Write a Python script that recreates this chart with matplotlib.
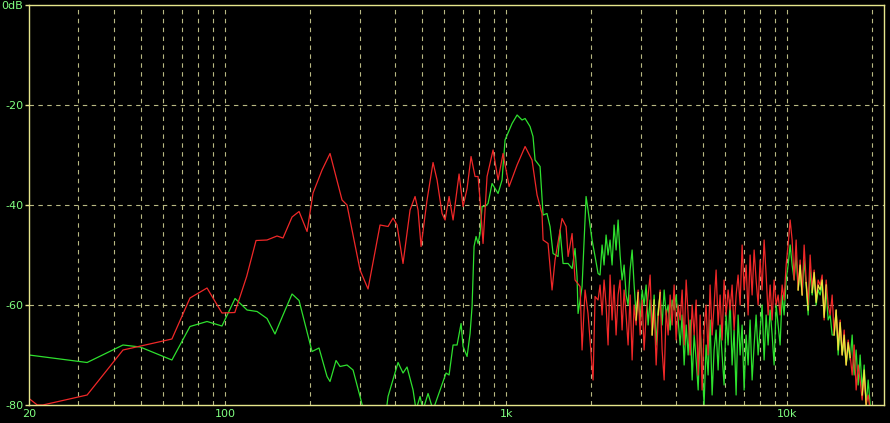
import numpy as np
import matplotlib.pyplot as plt

# ---- data: spectrum levels (dB) ----
# low / mid band, red channel
red_lo_freq = [20, 21.4, 22.4, 32.2, 43.2, 64.5, 74.8, 86.0, 97.2, 108,
               119, 128.5, 140.6, 152.6, 160.3, 172.6, 182.8, 195.2, 205, 220.7,
               235.6, 260, 270.8, 301.3, 321.7, 354.9, 379, 394.9, 408, 428.5,
               453.9, 472.9, 484.6, 496.7, 521.7, 548, 566.3, 590, 604.7, 624.9,
               645.7, 678.2, 700.8, 724.2, 748.2, 773.1, 792.4, 805.4, 825.4, 853,
               896, 933.4, 972.5, 1022, 1091, 1165, 1233, 1285, 1338, 1350,
               1406, 1453, 1489, 1577, 1630, 1657, 1712, 1754, 1828, 1858,
               1904, 1951, 2033, 2067, 2118]
red_lo_db = [-78.7, -80, -80, -78, -69, -66.8, -58.6, -56.6, -61.6, -61.5,
             -54.3, -47.1, -47, -46.2, -46.6, -42.4, -41.3, -45.3, -37.6, -33,
             -29.7, -39, -40, -53, -56.8, -44, -44.3, -42.6, -44, -51.7,
             -41, -38.3, -41, -48.3, -39, -31.5, -35, -41.7, -43, -38.3,
             -43, -33.8, -40.3, -36.7, -30.3, -34.3, -34.3, -39, -47.7, -34.3,
             -29, -35, -29.7, -36.3, -32, -28.3, -31, -38, -41.7, -47,
             -47.7, -57, -51, -42.7, -44.3, -50.3, -45.7, -55, -56.3, -69,
             -57, -61.7, -75, -58.3, -59]

# low / mid band, green channel
green_lo_freq = [20, 32.2, 43.2, 49.7, 64.5, 74.8, 86.0, 97.2, 108.2, 119.4,
                 129.6, 140.6, 150.1, 160.3, 172.6, 182.8, 203.3, 215.3, 229.9, 235.6,
                 247.5, 255.7, 270.8, 284.5, 301.3, 316.5, 369.8, 379, 411.4, 428.5,
                 442.8, 465.2, 476.8, 492.6, 504.9, 526, 548, 580.4, 609.7, 624.9,
                 645.7, 667.2, 689.4, 700.8, 724.2, 742.2, 754.4, 766.8, 779.5, 792.4,
                 805.4, 818.7, 839, 860, 888.7, 910.9, 933.4, 964.5, 988.5, 1047,
                 1091, 1136, 1165, 1213, 1243, 1264, 1317, 1338, 1350, 1394,
                 1429, 1465, 1526, 1551, 1590, 1657, 1712, 1754, 1783, 1798,
                 1858, 1920, 1951, 2016, 2067, 2118]
green_lo_db = [-70, -71.5, -68, -68.4, -71, -64.3, -63.3, -64.2, -58.7, -61,
               -61.3, -62.7, -65.8, -62, -57.8, -59.1, -69.3, -68.6, -74.3, -75.3,
               -71.1, -72.3, -72, -73, -78.3, -83, -83, -78.3, -71.5, -73.6,
               -72.4, -77, -81, -78.3, -81, -77.7, -81, -77, -73.6, -74,
               -68, -68, -63.7, -68.3, -70.3, -65.7, -60.3, -48.3, -46.3, -47.7,
               -45.7, -40.3, -40.3, -39.7, -35.7, -36.7, -37.7, -35, -27, -23.7,
               -22, -23, -22.7, -24.3, -26.3, -31, -32.3, -38.3, -42, -41.7,
               -44.3, -49.7, -50.3, -45, -51.7, -51.7, -52.7, -48.7, -54.3, -61.7,
               -56.3, -38.3, -41, -47, -50.3, -53.7]

# high band, shared frequency points for both channels
hf_freq = [2153, 2189, 2225, 2262, 2299, 2337, 2376, 2415, 2455, 2496,
           2537, 2579, 2622, 2665, 2709, 2754, 2800, 2846, 2893, 2941,
           2990, 3039, 3089, 3140, 3192, 3245, 3299, 3353, 3409, 3465,
           3522, 3580, 3640, 3700, 3761, 3823, 3886, 3950, 4016, 4082,
           4150, 4218, 4288, 4359, 4431, 4504, 4579, 4654, 4731, 4810,
           4889, 4967, 5049, 5133, 5218, 5304, 5392, 5481, 5572, 5664,
           5757, 5852, 5949, 6047, 6147, 6249, 6352, 6457, 6564, 6672,
           6783, 6895, 7009, 7125, 7242, 7362, 7484, 7608, 7733, 7861,
           7991, 8123, 8257, 8394, 8532, 8673, 8817, 8963, 9111, 9261,
           9414, 9570, 9728, 9889, 10052, 10219, 10388, 10559, 10734, 10911,
           11091, 11275, 11461, 11650, 11843, 12039, 12238, 12440, 12646, 12855,
           13067, 13283, 13503, 13726, 13953, 14183, 14418, 14656, 14898, 15144,
           15395, 15649, 15908, 16171, 16438, 16710, 16986, 17267, 17552, 17842,
           18137, 18437, 18742, 19052, 19367, 19687]
hf_red = [-56, -62, -55, -60, -68, -54, -63, -56, -66, -58,
          -55, -65, -57, -62, -68, -58, -71, -60, -64, -57,
          -66, -59, -69, -62, -58, -54, -66, -60, -72, -63,
          -57, -69, -75, -61, -66, -58, -64, -56, -67, -60,
          -63, -57, -68, -55, -62, -70, -60, -66, -59, -74,
          -62, -77, -65, -60, -70, -56, -66, -60, -53, -64,
          -58, -67, -55, -62, -57, -61, -56, -65, -58, -54,
          -60, -48, -57, -52, -62, -50, -58, -49, -55, -60,
          -51, -57, -47, -54, -62, -56, -63, -55, -60, -58,
          -62, -56, -59, -52, -48, -43, -47, -55, -47, -57,
          -51, -58, -48, -55, -60, -50, -57, -53, -59, -55,
          -56, -54, -63, -55, -60, -62, -58, -66, -61, -68,
          -63, -70, -65, -72, -67, -70, -74, -68, -77, -72,
          -75, -79, -74, -80, -78, -81]
hf_green = [-54, -48, -52, -46, -50, -47, -52, -44, -49, -43,
            -50, -55, -52, -58, -60, -53, -49, -56, -62, -58,
            -63, -57, -60, -56, -64, -59, -66, -58, -68, -61,
            -58, -64, -57, -62, -60, -65, -59, -61, -58, -63,
            -68, -62, -72, -64, -70, -63, -75, -66, -71, -77,
            -65, -72, -80, -68, -74, -63, -78, -69, -65, -73,
            -64, -70, -76, -62, -68, -59, -72, -65, -78, -62,
            -70, -64, -77, -66, -72, -63, -75, -68, -62, -70,
            -65, -60, -71, -62, -68, -61, -66, -72, -60, -64,
            -68, -58, -62, -55, -52, -48, -52, -55, -50, -57,
            -53, -58, -51, -56, -62, -53, -58, -54, -60, -57,
            -58, -56, -62, -57, -63, -62, -66, -66, -61, -70,
            -64, -70, -67, -72, -68, -71, -66, -74, -69, -76,
            -70, -77, -72, -80, -75, -80]

x_ticks = [20, 100, 1000, 10000]
x_labels = ["20", "100", "1k", "10k"]
y_ticks = [0, -20, -40, -60, -80]
y_labels = ["0dB", "-20", "-40", "-60", "-80"]

# ---- build series ----
red_f = np.array(red_lo_freq + hf_freq)
red_v = np.array(red_lo_db + hf_red)
green_f = np.array(green_lo_freq + hf_freq)
green_v = np.array(green_lo_db + hf_green)

# where both channels coincide the screen shows yellow
hr = np.array(hf_red, dtype=float)
hg = np.array(hf_green, dtype=float)
overlap = np.where(np.abs(hr - hg) <= 2, (hr + hg) / 2, np.nan)

# ---- plot ----
spine_col = "#e6e68c"
grid_col = "#b9b983"
label_col = "#80ff80"

fig = plt.figure(figsize=(8.9, 4.23), dpi=100, facecolor="black")
ax = fig.add_axes([29 / 890, 18 / 423, 855 / 890, 400 / 423])
ax.set_facecolor("black")
ax.set_xscale("log")
ax.set_xlim(20, 22050)
ax.set_ylim(-80, 0)

minor_x = [m * d for d in (10, 100, 1000, 10000) for m in range(2, 10)]
minor_x = [v for v in minor_x if 20 < v < 22050]
ax.set_xticks(x_ticks)
ax.set_xticklabels(x_labels)
ax.set_xticks(minor_x, minor=True)
ax.set_yticks(y_ticks)
ax.set_yticklabels([])

# y labels drawn by hand so the top one stays inside the figure
for v, lab in zip(y_ticks, y_labels):
    ax.annotate(lab, xy=(0, v), xycoords=("axes fraction", "data"),
                xytext=(-4, -2.9), textcoords="offset points",
                ha="right", va="baseline", color=label_col, fontsize=8,
                annotation_clip=False)

for v in minor_x + x_ticks[1:]:
    ax.axvline(v, color=grid_col, lw=0.8, ls=(0, (4, 4)), zorder=1)
for v in y_ticks[1:-1]:
    ax.axhline(v, color=grid_col, lw=0.8, ls=(0, (4, 4)), zorder=1)

ax.plot(green_f, green_v, color="#2ee02e", lw=0.9, zorder=3)
ax.plot(red_f, red_v, color="#f02828", lw=0.9, zorder=4)
ax.plot(hf_freq, overlap, color="#e8e83c", lw=0.9, zorder=5)

for s in ax.spines.values():
    s.set_color(spine_col)
    s.set_linewidth(1.0)
    s.set_zorder(6)

ax.tick_params(axis="y", which="both", length=3, width=1, color=spine_col)
ax.tick_params(axis="x", which="both", length=0, labelcolor=label_col,
               labelsize=8, pad=3)

fig.savefig("out.png", dpi=100, facecolor="black")
